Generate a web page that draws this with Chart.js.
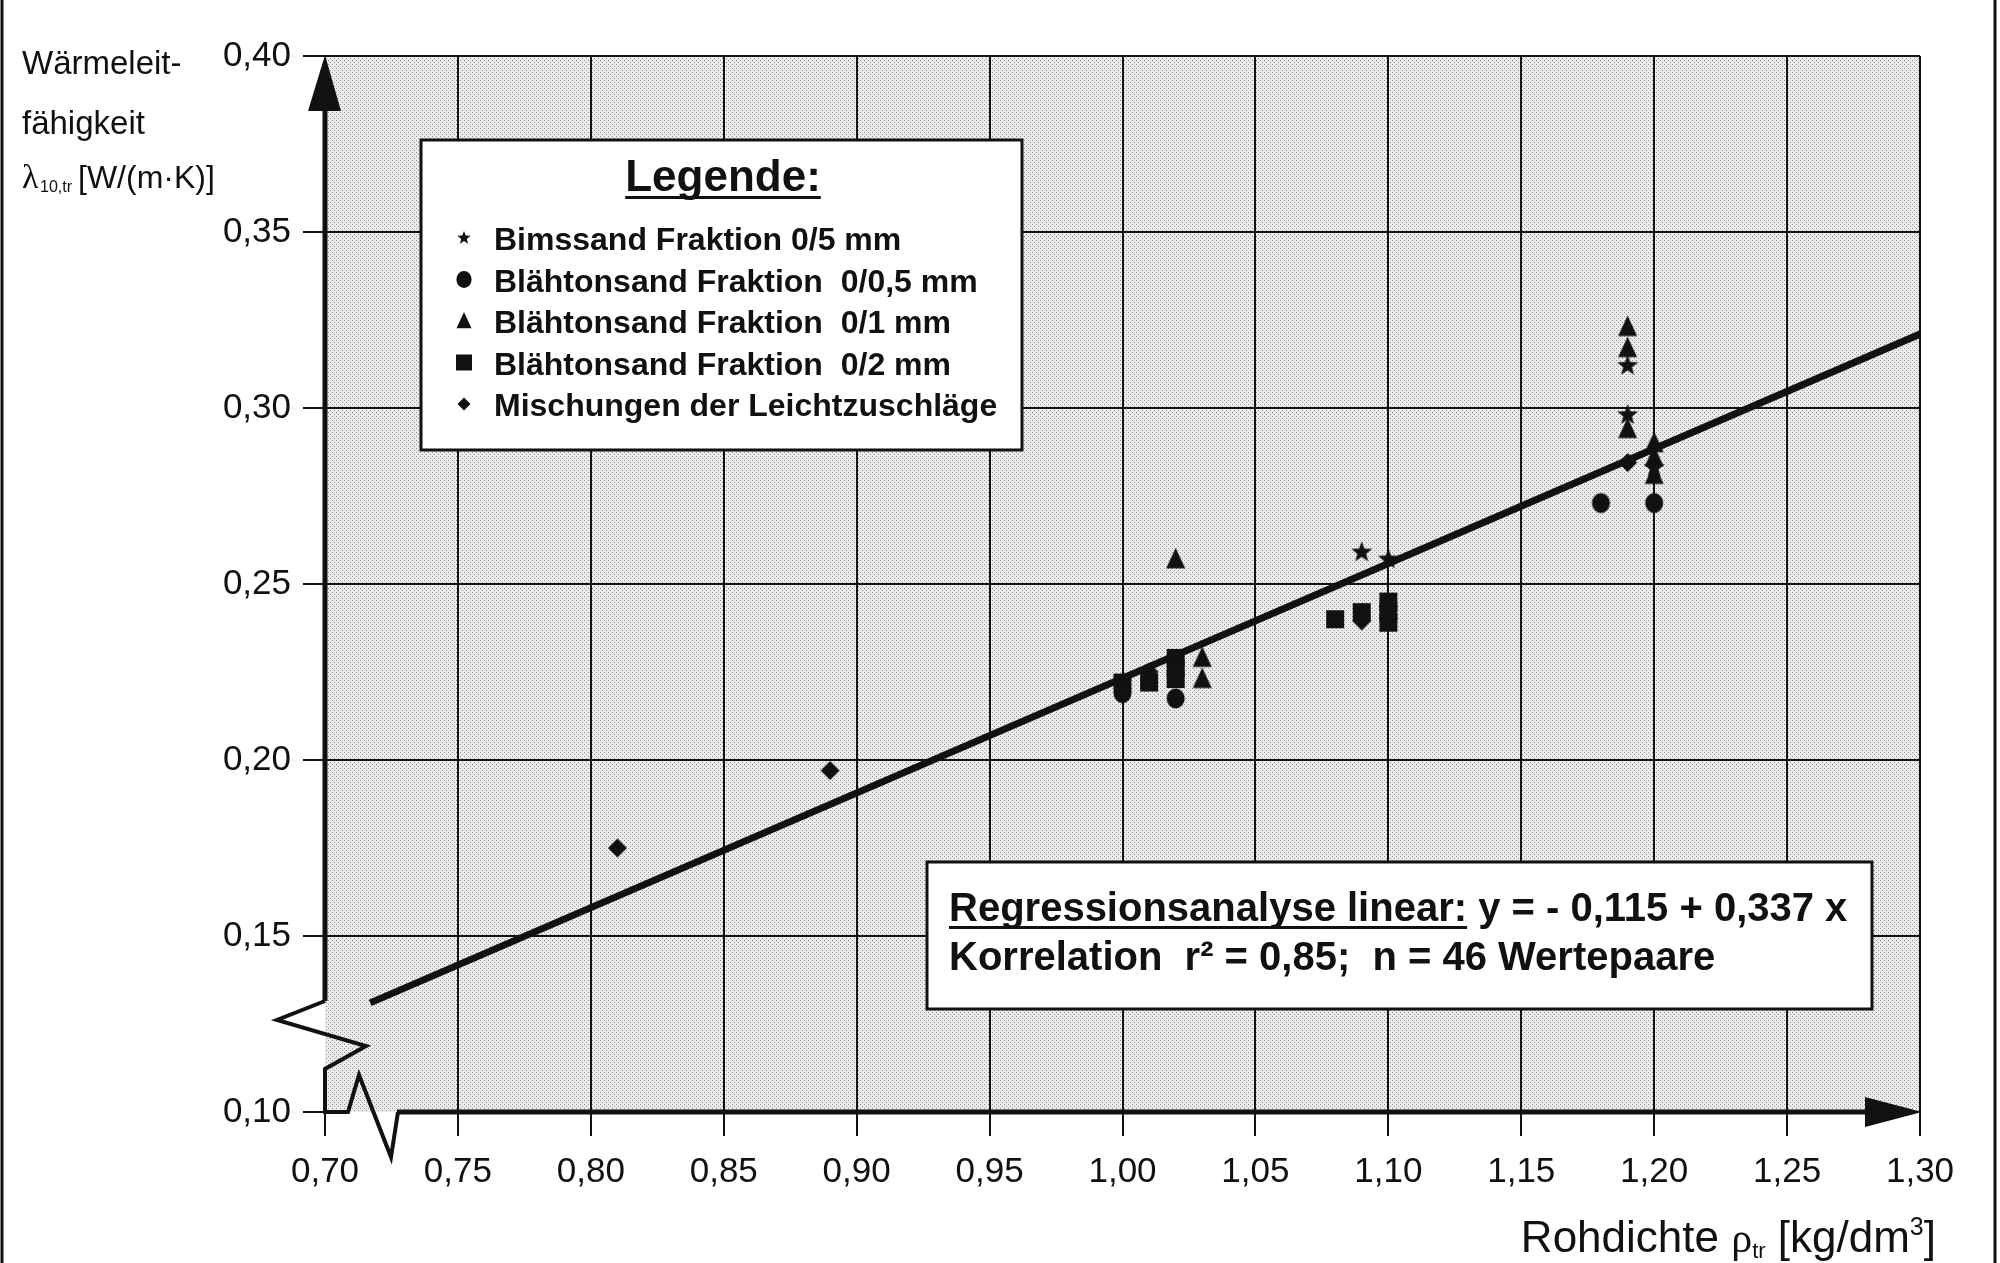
<!DOCTYPE html>
<html>
<head>
<meta charset="utf-8">
<script src="https://cdn.jsdelivr.net/npm/chart.js@4.4.0/dist/chart.umd.min.js"></script>
<style>
  html, body { margin: 0; padding: 0; background: #fff; }
  #wrap { width: 2000px; height: 1263px; }
</style>
</head>
<body>
<div id="wrap"><canvas id="chart" width="2000" height="1263"></canvas></div>
<script>
// Rohdichte (x) / Waermeleitfaehigkeit (y) je Zuschlag
const bimsX = [1.09, 1.10, 1.19, 1.19, 1.20];
const bimsY = [0.259, 0.257, 0.312, 0.298, 0.283];
const bt05X = [1.00, 1.02, 1.18, 1.20];
const bt05Y = [0.219, 0.2175, 0.273, 0.273];
const bt1X = [1.02, 1.03, 1.03, 1.19, 1.19, 1.19, 1.20, 1.20, 1.20];
const bt1Y = [0.257, 0.229, 0.223, 0.323, 0.317, 0.294, 0.290, 0.286, 0.281];
const bt2X = [1.00, 1.01, 1.02, 1.02, 1.02, 1.08, 1.09, 1.10, 1.10, 1.10];
const bt2Y = [0.222, 0.222, 0.229, 0.226, 0.223, 0.240, 0.242, 0.245, 0.242, 0.239];
const mixX = [0.81, 0.89, 1.01, 1.09, 1.19];
const mixY = [0.175, 0.197, 0.225, 0.2395, 0.2845];

// Regressionsgerade, Endpunkte wie im Bild
const fitX = [0.717, 1.30];
const fitY = [0.131, 0.321];

const seriesNames = [
  'Bimssand Fraktion 0/5 mm',
  'Blähtonsand Fraktion  0/0,5 mm',
  'Blähtonsand Fraktion  0/1 mm',
  'Blähtonsand Fraktion  0/2 mm',
  'Mischungen der Leichtzuschläge'
];
const seriesMarks = ['star', 'circle', 'triangle', 'square', 'diamond'];

const xTicks = [0.70, 0.75, 0.80, 0.85, 0.90, 0.95, 1.00, 1.05, 1.10, 1.15, 1.20, 1.25, 1.30];
const xLabels = ['0,70', '0,75', '0,80', '0,85', '0,90', '0,95', '1,00', '1,05', '1,10', '1,15', '1,20', '1,25', '1,30'];
const yTicks = [0.10, 0.15, 0.20, 0.25, 0.30, 0.35, 0.40];
const yLabels = ['0,10', '0,15', '0,20', '0,25', '0,30', '0,35', '0,40'];

const FONT = "'Liberation Sans', Arial, Helvetica, sans-serif";
const SERIF = "'Liberation Serif', 'DejaVu Serif', serif";
const INK = '#111';

// marker shapes (plot + legend)
function mark(ctx, kind, x, y, s) {
  ctx.beginPath();
  if (kind === 'star') {
    for (let k = 0; k < 10; k++) {
      const r = k % 2 ? s * 0.42 : s;
      const a = -Math.PI / 2 + k * Math.PI / 5;
      ctx.lineTo(x + r * Math.cos(a), y + r * Math.sin(a));
    }
  } else if (kind === 'circle') {
    ctx.ellipse(x, y, s * 0.95, s * 1.05, 0, 0, Math.PI * 2);
  } else if (kind === 'triangle') {
    ctx.moveTo(x, y - s * 1.2);
    ctx.lineTo(x + s, y + s * 0.95);
    ctx.lineTo(x - s, y + s * 0.95);
  } else if (kind === 'square') {
    ctx.rect(x - s, y - s, 2 * s, 2 * s);
  } else {
    ctx.moveTo(x, y - s); ctx.lineTo(x + s, y); ctx.lineTo(x, y + s); ctx.lineTo(x - s, y);
  }
  ctx.closePath();
  ctx.fill();
}

function icon(kind, s) {
  const c = document.createElement('canvas');
  c.width = c.height = Math.ceil(2 * s + 6);
  const g = c.getContext('2d');
  g.fillStyle = INK;
  mark(g, kind, c.width / 2, c.height / 2, s);
  return c;
}

function stipple(ctx) {
  const c = document.createElement('canvas');
  c.width = 4; c.height = 4;
  const g = c.getContext('2d');
  g.fillStyle = '#ebebeb'; g.fillRect(0, 0, 4, 4);
  g.fillStyle = '#949494'; g.fillRect(0, 0, 1, 1); g.fillRect(2, 2, 1, 1);
  return ctx.createPattern(c, 'repeat');
}

const pts = (xs, ys) => xs.map((x, i) => ({ x: x, y: ys[i] }));
const markSize = [11, 9.5, 9.5, 9, 9.5];
const allX = [bimsX, bt05X, bt1X, bt2X, mixX];
const allY = [bimsY, bt05Y, bt1Y, bt2Y, mixY];

const datasets = seriesNames.map((name, i) => ({
  label: name,
  data: pts(allX[i], allY[i]),
  pointStyle: icon(seriesMarks[i], markSize[i]),
  pointRadius: markSize[i],
  showLine: false
}));
datasets.push({
  label: 'Regression',
  data: pts(fitX, fitY),
  showLine: true,
  borderColor: INK,
  borderWidth: 7,
  pointRadius: 0,
  order: -1
});

const deco = {
  id: 'deco',
  beforeDraw(chart) {
    const { ctx, chartArea: a } = chart;
    ctx.save();
    ctx.fillStyle = '#fff';
    ctx.fillRect(0, 0, chart.width, chart.height);
    ctx.fillStyle = stipple(ctx);
    ctx.fillRect(a.left, a.top, a.right - a.left, a.bottom - a.top);
    ctx.restore();
  },
  afterDraw(chart) {
    const { ctx } = chart;
    const xs = chart.scales.x, ys = chart.scales.y;
    const L = xs.getPixelForValue(0.70), R = xs.getPixelForValue(1.30);
    const T = ys.getPixelForValue(0.40), B = ys.getPixelForValue(0.10);
    ctx.save();
    ctx.strokeStyle = INK; ctx.fillStyle = INK;

    // y axis with break
    ctx.lineWidth = 5;
    ctx.beginPath(); ctx.moveTo(L, T + 20); ctx.lineTo(L, B - 111); ctx.stroke();
    ctx.lineWidth = 4; ctx.lineJoin = 'miter';
    ctx.beginPath();
    ctx.moveTo(L, B - 111); ctx.lineTo(L - 48, B - 92); ctx.lineTo(L + 41, B - 66);
    ctx.lineTo(L, B - 43); ctx.lineTo(L, B); ctx.lineTo(L + 23, B);
    ctx.lineTo(L + 34, B - 37); ctx.lineTo(L + 66, B + 45); ctx.lineTo(L + 73, B);
    ctx.stroke();
    // x axis
    ctx.lineWidth = 5;
    ctx.beginPath(); ctx.moveTo(L + 72, B); ctx.lineTo(R - 40, B); ctx.stroke();
    // arrows
    ctx.beginPath(); ctx.moveTo(L, T - 1); ctx.lineTo(L - 17, T + 55); ctx.lineTo(L + 16, T + 55); ctx.closePath(); ctx.fill();
    ctx.beginPath(); ctx.moveTo(R + 2, B); ctx.lineTo(R - 55, B - 15); ctx.lineTo(R - 55, B + 15); ctx.closePath(); ctx.fill();

    // y title
    ctx.textBaseline = 'alphabetic'; ctx.textAlign = 'left';
    ctx.font = '33px ' + FONT;
    ctx.fillText('Wärmeleit-', 22, 74);
    ctx.fillText('fähigkeit', 22, 134);
    ctx.font = '34px ' + SERIF;
    ctx.fillText('λ', 22, 188);
    ctx.font = '16px ' + FONT;
    ctx.fillText('10,tr', 40, 192);
    ctx.font = '32px ' + FONT;
    ctx.fillText('[W/(m·K)]', 78, 188);

    // x title, right aligned
    const parts = [
      ['Rohdichte ', '44px ' + FONT, 0],
      ['ρ', '42px ' + SERIF, 0],
      ['tr', '22px ' + FONT, 6],
      [' [kg/dm', '44px ' + FONT, 0],
      ['3', '25px ' + FONT, -17],
      [']', '44px ' + FONT, 0]
    ];
    let w = 0;
    parts.forEach(p => { ctx.font = p[1]; w += ctx.measureText(p[0]).width; });
    let px = 1936 - w;
    parts.forEach(p => { ctx.font = p[1]; ctx.fillText(p[0], px, 1252 + p[2]); px += ctx.measureText(p[0]).width; });

    // legend box
    ctx.fillStyle = '#fff';
    ctx.fillRect(421, 140, 601, 310);
    ctx.lineWidth = 3;
    ctx.strokeRect(421, 140, 601, 310);
    ctx.fillStyle = INK;
    ctx.font = 'bold 44px ' + FONT;
    ctx.textAlign = 'center';
    ctx.fillText('Legende:', 723, 191);
    const lw = ctx.measureText('Legende:').width;
    ctx.fillRect(723 - lw / 2, 196, lw, 3);
    ctx.textAlign = 'left';
    ctx.font = 'bold 32px ' + FONT;
    const legSize = [7, 8, 7.5, 8, 6.5];
    seriesNames.forEach((name, i) => {
      const cy = 238 + i * 41.5;
      mark(ctx, seriesMarks[i], 464, cy, legSize[i]);
      ctx.fillText(name, 494, cy + 12);
    });

    // regression box
    ctx.fillStyle = '#fff';
    ctx.fillRect(927, 862, 945, 147);
    ctx.lineWidth = 3;
    ctx.strokeRect(927, 862, 945, 147);
    ctx.fillStyle = INK;
    ctx.font = 'bold 40px ' + FONT;
    const head = 'Regressionsanalyse linear:';
    ctx.fillText(head, 949, 921);
    const hw = ctx.measureText(head).width;
    ctx.fillRect(949, 926, hw, 3);
    ctx.fillText(' y = - 0,115 + 0,337 x', 949 + hw, 921);
    ctx.fillText('Korrelation  r² = 0,85;  n = 46 Wertepaare', 949, 970);

    // page frame
    ctx.lineWidth = 3;
    ctx.beginPath();
    ctx.moveTo(2, 0); ctx.lineTo(2, chart.height);
    ctx.moveTo(1995, 0); ctx.lineTo(1995, chart.height);
    ctx.stroke();
    ctx.restore();
  }
};

const gridColor = first => c => (c.tick && Math.abs(c.tick.value - first) < 0.001 ? 'rgba(0,0,0,0)' : INK);

new Chart(document.getElementById('chart'), {
  type: 'scatter',
  data: { datasets: datasets },
  options: {
    responsive: false,
    animation: false,
    devicePixelRatio: 1,
    layout: { padding: { left: 0, top: 56, right: 80, bottom: 0 } },
    plugins: { legend: { display: false }, tooltip: { enabled: false } },
    scales: {
      x: {
        type: 'linear', min: 0.70, max: 1.30,
        afterBuildTicks: ax => { ax.ticks = xTicks.map(v => ({ value: v })); },
        afterFit: ax => { ax.height = 151; },
        ticks: {
          callback: (v, i) => xLabels[i],
          font: { family: FONT, size: 35 }, color: INK, padding: 15,
          maxRotation: 0, autoSkip: false
        },
        grid: { color: gridColor(0.70), lineWidth: 2, tickColor: INK, tickWidth: 2, tickLength: 24 },
        border: { display: false }
      },
      y: {
        type: 'linear', min: 0.10, max: 0.40,
        afterBuildTicks: ax => { ax.ticks = yTicks.map(v => ({ value: v })); },
        afterFit: ax => { ax.width = 325; },
        ticks: {
          callback: (v, i) => yLabels[i],
          font: { family: FONT, size: 35 }, color: INK, padding: 12, autoSkip: false
        },
        grid: { color: gridColor(0.10), lineWidth: 2, tickColor: INK, tickWidth: 2, tickLength: 22 },
        border: { display: false }
      }
    }
  },
  plugins: [deco]
});
</script>
</body>
</html>
